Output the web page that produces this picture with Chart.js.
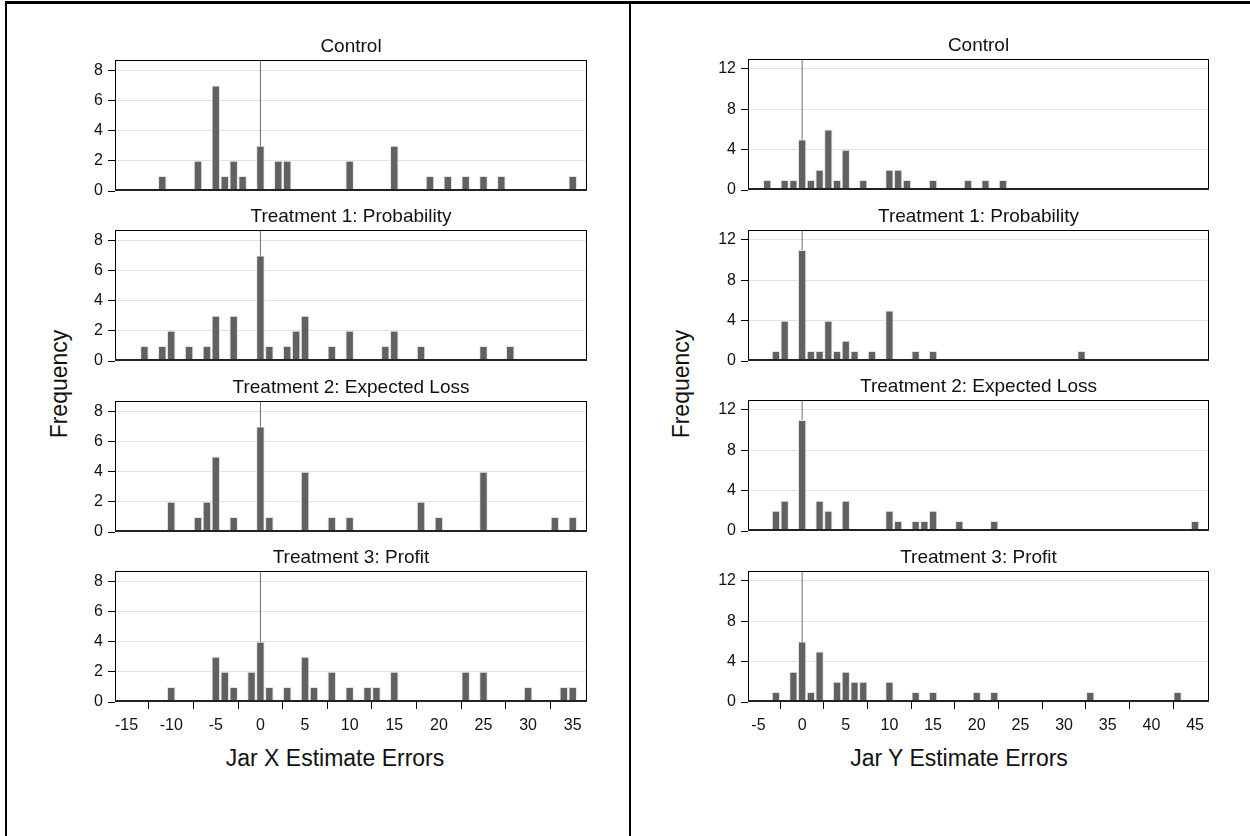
<!DOCTYPE html>
<html>
<head>
<meta charset="utf-8">
<title>Jar estimate errors</title>
<script src="https://cdn.jsdelivr.net/npm/chart.js@4.4.1/dist/chart.umd.min.js"></script>
<style>
  body { margin: 0; background: #fff; font-family: "Liberation Sans", Arial, sans-serif; }
  #page { position: relative; width: 1250px; height: 836px; overflow: hidden; }
  .rule { position: absolute; background: #000; }
  canvas { position: absolute; }
  .lab { position: absolute; font-size: 23px; color: #111; white-space: nowrap; transform: translate(-50%, -50%); }
  .rot { transform: translate(-50%, -50%) rotate(-90deg); }
</style>
</head>
<body>
<div id="page">
  <div class="rule" style="left:5px;top:1px;width:1245px;height:3px;"></div>
  <div class="rule" style="left:5px;top:1px;width:2px;height:835px;"></div>
  <div class="rule" style="left:629px;top:1px;width:2px;height:835px;"></div>
  <div class="lab rot" style="left:59px;top:384px;">Frequency</div>
  <div class="lab rot" style="left:681px;top:384px;">Frequency</div>
  <div class="lab" style="left:335px;top:758px;">Jar X Estimate Errors</div>
  <div class="lab" style="left:959px;top:758px;">Jar Y Estimate Errors</div>
</div>
<script>
// ── 데이터 ──────────────────────────────────────────────
var panelTitles = ["Control", "Treatment 1: Probability", "Treatment 2: Expected Loss", "Treatment 3: Profit"];

var xTicksX = [-15, -10, -5, 0, 5, 10, 15, 20, 25, 30, 35];
var xTicksY = [-5, 0, 5, 10, 15, 20, 25, 30, 35, 40, 45];
var yTicksX = [0, 2, 4, 6, 8];
var yTicksY = [0, 4, 8, 12];

// [error, frequency]
var jarXControl = [[-11,1],[-7,2],[-5,7],[-4,1],[-3,2],[-2,1],[0,3],[2,2],[3,2],[10,2],[15,3],[19,1],[21,1],[23,1],[25,1],[27,1],[35,1]];
var jarXProb = [[-13,1],[-11,1],[-10,2],[-8,1],[-6,1],[-5,3],[-3,3],[0,7],[1,1],[3,1],[4,2],[5,3],[8,1],[10,2],[14,1],[15,2],[18,1],[25,1],[28,1]];
var jarXLoss = [[-10,2],[-7,1],[-6,2],[-5,5],[-3,1],[0,7],[1,1],[5,4],[8,1],[10,1],[18,2],[20,1],[25,4],[33,1],[35,1]];
var jarXProfit = [[-10,1],[-5,3],[-4,2],[-3,1],[-1,2],[0,4],[1,1],[3,1],[5,3],[6,1],[8,2],[10,1],[12,1],[13,1],[15,2],[23,2],[25,2],[30,1],[34,1],[35,1]];

var jarYControl = [[-4,1],[-2,1],[-1,1],[0,5],[1,1],[2,2],[3,6],[4,1],[5,4],[7,1],[10,2],[11,2],[12,1],[15,1],[19,1],[21,1],[23,1]];
var jarYProb = [[-3,1],[-2,4],[0,11],[1,1],[2,1],[3,4],[4,1],[5,2],[6,1],[8,1],[10,5],[13,1],[15,1],[32,1]];
var jarYLoss = [[-3,2],[-2,3],[0,11],[2,3],[3,2],[5,3],[10,2],[11,1],[13,1],[14,1],[15,2],[18,1],[22,1],[45,1]];
var jarYProfit = [[-3,1],[-1,3],[0,6],[1,1],[2,5],[4,2],[5,3],[6,2],[7,2],[10,2],[13,1],[15,1],[20,1],[22,1],[33,1],[43,1]];

// ── 레이아웃 ────────────────────────────────────────────
var TITLE_SIZE = 19;
var TITLE_PAD = 2;
var TITLE_BLOCK = TITLE_SIZE * 1.2 + TITLE_PAD;
var PLOT_H = 131;
var FRAME_TOPS = [59.5, 230, 400.5, 571];
var PAD_B = 2, PAD_R = 2;

Chart.defaults.font.family = '"Liberation Sans", Arial, sans-serif';
Chart.defaults.color = "#111";

// 플롯 영역 테두리 + 0 기준선
var framePlugin = {
  id: "frame",
  afterDatasetsDraw: function (chart) {
    var a = chart.chartArea, ctx = chart.ctx;
    ctx.save();
    ctx.strokeStyle = "#000";
    ctx.lineWidth = 1;
    ctx.strokeRect(Math.round(a.left) + 0.5, Math.round(a.top) + 0.5, Math.round(a.right - a.left) - 1, Math.round(a.bottom - a.top) - 1);
    ctx.strokeStyle = "#222";
    ctx.lineWidth = 2;
    ctx.beginPath();
    ctx.moveTo(a.left, Math.round(a.bottom) - 1);
    ctx.lineTo(a.right, Math.round(a.bottom) - 1);
    ctx.stroke();
    ctx.restore();
  }
};

function makeHist(opt) {
  var isBottom = opt.row === 3;
  var xH = isBottom ? 44 : 16; // 위 칸은 y 라벨 "0" 넘침 공간만
  var top = Math.round(opt.frameTop - TITLE_BLOCK);
  var h = Math.round(TITLE_BLOCK + PLOT_H + xH + PAD_B);
  var w = opt.frameRight + PAD_R - opt.canvasLeft;

  var cv = document.createElement("canvas");
  cv.width = w;
  cv.height = h;
  cv.style.left = opt.canvasLeft + "px";
  cv.style.top = top + "px";
  cv.style.width = w + "px";
  cv.style.height = h + "px";
  document.getElementById("page").appendChild(cv);

  new Chart(cv.getContext("2d"), {
    type: "bar",
    data: {
      datasets: [
        {
          type: "line",
          data: [{ x: 0, y: 0 }, { x: 0, y: opt.yMax }],
          borderColor: "#6e6e6e",
          borderWidth: 1,
          pointRadius: 0,
          order: 2
        },
        {
          data: opt.series.map(function (p) { return { x: p[0], y: p[1] }; }),
          backgroundColor: "#616161",
          borderColor: "#e4e4e4",
          borderWidth: 1,
          barPercentage: 1,
          categoryPercentage: 0.95,
          order: 1
        }
      ]
    },
    options: {
      responsive: false,
      animation: false,
      events: [],
      layout: { padding: { top: 0, right: PAD_R, bottom: PAD_B, left: 0 } },
      plugins: {
        legend: { display: false },
        tooltip: { enabled: false },
        title: {
          display: true,
          text: opt.title,
          fullSize: false,
          color: "#111",
          font: { size: TITLE_SIZE, weight: "normal" },
          padding: { top: 0, bottom: TITLE_PAD }
        }
      },
      scales: {
        x: {
          type: "linear",
          min: opt.xMin,
          max: opt.xMax,
          offset: false,
          afterBuildTicks: function (axis) {
            axis.ticks = opt.xTicks.map(function (v) { return { value: v }; });
          },
          afterFit: function (scale) { scale.height = xH; },
          ticks: { display: isBottom, font: { size: 16 }, color: "#111", padding: 7, maxRotation: 0, autoSkip: false },
          grid: { display: isBottom, drawOnChartArea: false, tickLength: 7, tickColor: "#000" },
          border: { display: false }
        },
        y: {
          min: 0,
          max: opt.yMax,
          afterBuildTicks: function (axis) {
            axis.ticks = opt.yTicks.map(function (v) { return { value: v }; });
          },
          afterFit: function (scale) { scale.width = opt.yW; },
          ticks: { font: { size: 16 }, color: "#111", padding: 5 },
          grid: {
            color: function (c) { return c.tick && c.tick.value === 0 ? "rgba(0,0,0,0)" : "#e2e2e2"; },
            tickColor: "#000",
            tickLength: 7
          },
          border: { display: false }
        }
      }
    },
    plugins: [framePlugin]
  });
}

var jarX = [jarXControl, jarXProb, jarXLoss, jarXProfit];
var jarY = [jarYControl, jarYProb, jarYLoss, jarYProfit];

jarX.forEach(function (s, i) {
  makeHist({ row: i, series: s, title: panelTitles[i], frameTop: FRAME_TOPS[i],
    canvasLeft: 60, yW: 55, frameRight: 587,
    xMin: -16.3, xMax: 36.6, xTicks: xTicksX, yMax: 8.7, yTicks: yTicksX });
});
jarY.forEach(function (s, i) {
  makeHist({ row: i, series: s, title: panelTitles[i], frameTop: FRAME_TOPS[i] - 0.5,
    canvasLeft: 695, yW: 53, frameRight: 1209,
    xMin: -6.2, xMax: 46.6, xTicks: xTicksY, yMax: 13, yTicks: yTicksY });
});
</script>
</body>
</html>
